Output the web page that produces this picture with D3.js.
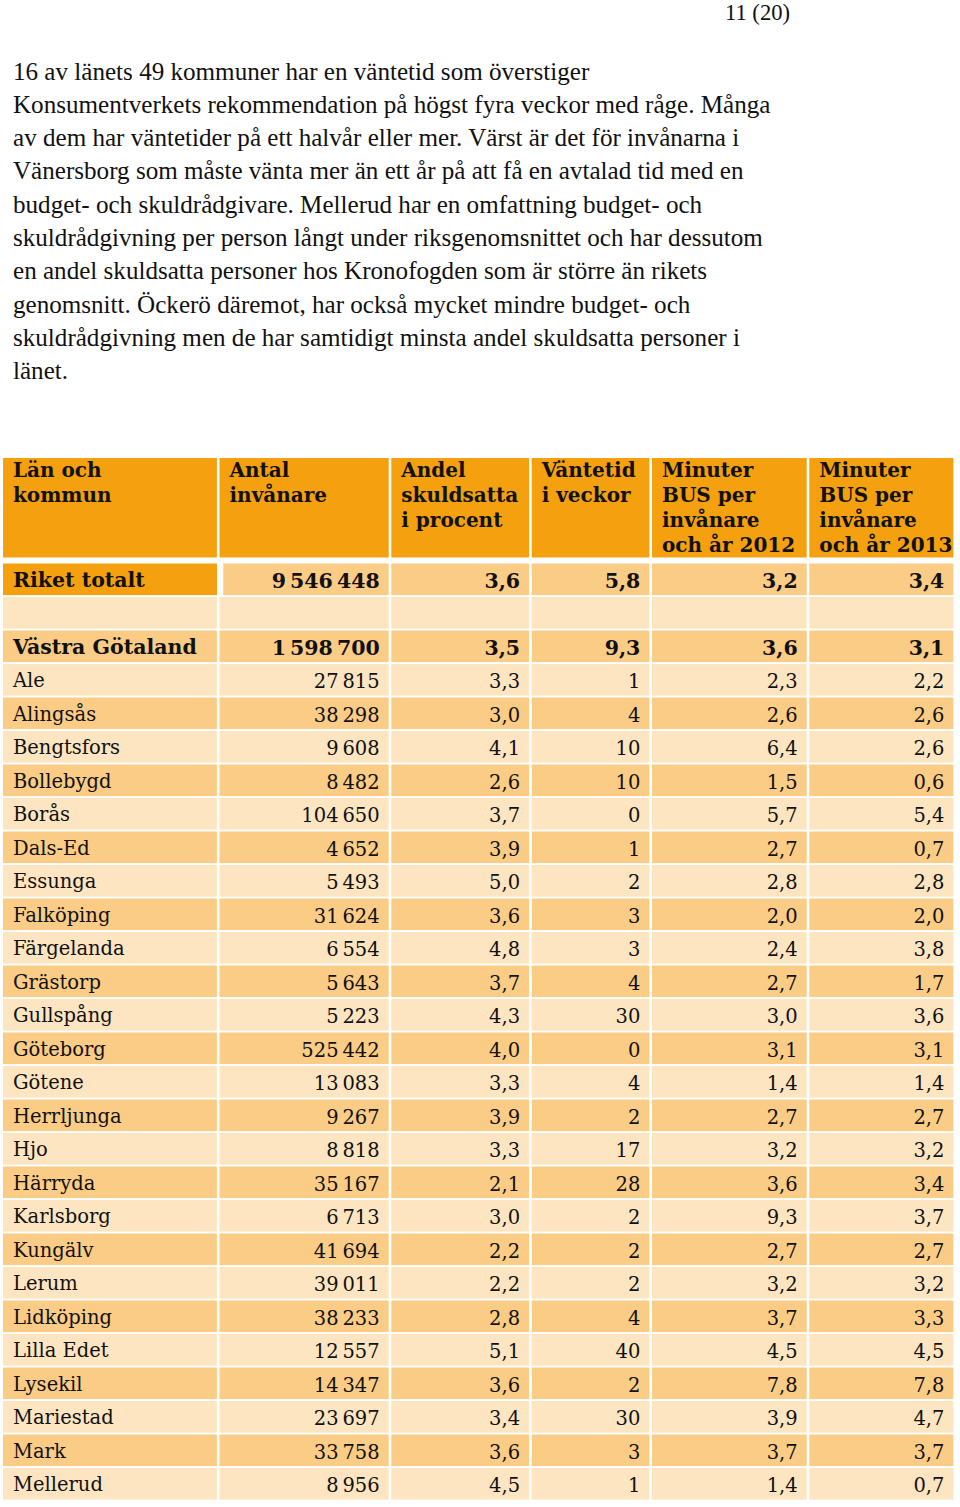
<!DOCTYPE html>
<html><head><meta charset="utf-8">
<script src="https://cdn.jsdelivr.net/npm/d3@7"></script>
<style>body{margin:0;background:#fff}svg{display:block}</style>
</head><body>
<script>
// ---- data ----
const pageNumber = "11 (20)";
const paragraph = [
 "16 av länets 49 kommuner har en väntetid som överstiger",
 "Konsumentverkets rekommendation på högst fyra veckor med råge. Många",
 "av dem har väntetider på ett halvår eller mer. Värst är det för invånarna i",
 "Vänersborg som måste vänta mer än ett år på att få en avtalad tid med en",
 "budget- och skuldrådgivare. Mellerud har en omfattning budget- och",
 "skuldrådgivning per person långt under riksgenomsnittet och har dessutom",
 "en andel skuldsatta personer hos Kronofogden som är större än rikets",
 "genomsnitt. Öckerö däremot, har också mycket mindre budget- och",
 "skuldrådgivning men de har samtidigt minsta andel skuldsatta personer i",
 "länet."
];
const headers = [
 ["Län och","kommun"],
 ["Antal","invånare"],
 ["Andel","skuldsatta","i procent"],
 ["Väntetid","i veckor"],
 ["Minuter","BUS per","invånare","och år 2012"],
 ["Minuter","BUS per","invånare","och år 2013"]
];
const names = ["Riket totalt","","Västra Götaland","Ale","Alingsås","Bengtsfors","Bollebygd","Borås","Dals-Ed","Essunga","Falköping","Färgelanda","Grästorp","Gullspång","Göteborg","Götene","Herrljunga","Hjo","Härryda","Karlsborg","Kungälv","Lerum","Lidköping","Lilla Edet","Lysekil","Mariestad","Mark","Mellerud"];
const invanare = [9546448,null,1598700,27815,38298,9608,8482,104650,4652,5493,31624,6554,5643,5223,525442,13083,9267,8818,35167,6713,41694,39011,38233,12557,14347,23697,33758,8956];
const andel = [3.6,null,3.5,3.3,3.0,4.1,2.6,3.7,3.9,5.0,3.6,4.8,3.7,4.3,4.0,3.3,3.9,3.3,2.1,3.0,2.2,2.2,2.8,5.1,3.6,3.4,3.6,4.5];
const vantetid = [5.8,null,9.3,1,4,10,10,0,1,2,3,3,4,30,0,4,2,17,28,2,2,2,4,40,2,30,3,1];
const min2012 = [3.2,null,3.6,2.3,2.6,6.4,1.5,5.7,2.7,2.8,2.0,2.4,2.7,3.0,3.1,1.4,2.7,3.2,3.6,9.3,2.7,3.2,3.7,4.5,7.8,3.9,3.7,1.4];
const min2013 = [3.4,null,3.1,2.2,2.6,2.6,0.6,5.4,0.7,2.8,2.0,3.8,1.7,3.6,3.1,1.4,2.7,3.2,3.4,3.7,2.7,3.2,3.3,4.5,7.8,4.7,3.7,0.7];
const boldRows = ["Riket totalt","Västra Götaland"];

// ---- layout ----
const W=960,H=1507;
const colEdges=[3,219.5,391.3,531.7,652,809.3,956];
const gap=2.6;
const ORANGE="#F5A00E", MED="#FBCC85", LIGHT="#FDE5C1";
const serif="'DejaVu Serif', Georgia, serif";
const times="'Liberation Serif','Times New Roman',Times,serif";
const loc=d3.formatLocale({decimal:",",thousands:"\u2009",grouping:[3]});
const fInt=loc.format(",d"), f1=loc.format(".1f");

const svg=d3.select("body").append("svg").attr("width",W).attr("height",H);

svg.append("text").attr("x",790).attr("y",19.5).attr("text-anchor","end")
 .style("font-family",times).attr("font-size",22.6).attr("fill","#111").text(pageNumber);

const py=d3.scaleLinear().domain([0,1]).range([79.5,112.8]);
svg.append("g").selectAll("text").data(paragraph).join("text")
 .attr("x",13).attr("y",(d,i)=>py(i)).style("font-family",times)
 .attr("font-size",25.1).attr("fill","#111").text(d=>d);

// columns
const x=d3.scaleOrdinal().domain(d3.range(6)).range(colEdges.slice(0,6));
const colW=i=>colEdges[i+1]-colEdges[i]-gap;

// header
const hg=svg.append("g");
headers.forEach((h,i)=>{
  hg.append("rect").attr("x",x(i)).attr("y",458).attr("width",colW(i)).attr("height",99.5).attr("fill",ORANGE);
  hg.append("g").selectAll("text").data(h).join("text")
   .attr("x",x(i)+10).attr("y",(d,j)=>477+j*25)
   .style("font-family",serif).attr("font-weight","bold").attr("font-size",20).attr("fill","#111").text(d=>d);
});

// rows
const y=d3.scaleLinear().domain([0,1]).range([563.5,597]);
const rowH=31.6;
const rows=names.map((n,i)=>({name:n,i,vals:[invanare[i],andel[i],vantetid[i],min2012[i],min2013[i]]}));
const fmts=[v=>fInt(v),v=>f1(v),v=>Number.isInteger(v)?fInt(v):f1(v),v=>f1(v),v=>f1(v)];
const rowFill=i=> i===0?MED : i===1?LIGHT : (i%2===0?MED:LIGHT);

const rg=svg.append("g").selectAll("g").data(rows).join("g").attr("transform",d=>`translate(0,${y(d.i)})`);
rg.each(function(d){
  const g=d3.select(this);
  const bold=boldRows.includes(d.name);
  for(let c=0;c<6;c++){
    let x0=x(c), w=colW(c), fill=rowFill(d.i);
    if(d.i===0 && c===0){ fill=ORANGE; w=214; }
    if(d.i===0 && c===1){ x0=223.3; w=colEdges[2]-gap-223.3; }
    g.append("rect").attr("x",x0).attr("y",0).attr("width",w).attr("height",rowH).attr("fill",fill);
  }
  if(d.name) g.append("text").attr("x",13).attr("y",23).style("font-family",serif)
    .attr("font-weight",bold?"bold":"normal").attr("font-size",bold?20.5:19.5).attr("fill","#111").text(d.name);
  d.vals.forEach((v,k)=>{
    if(v==null) return;
    g.append("text").attr("x",colEdges[k+2]-gap-9).attr("y",24).attr("text-anchor","end")
     .style("font-family",serif).attr("font-weight",bold?"bold":"normal").attr("font-size",bold?20.5:19.5)
     .attr("fill","#111").text(fmts[k](v));
  });
});
</script>
</body></html>
